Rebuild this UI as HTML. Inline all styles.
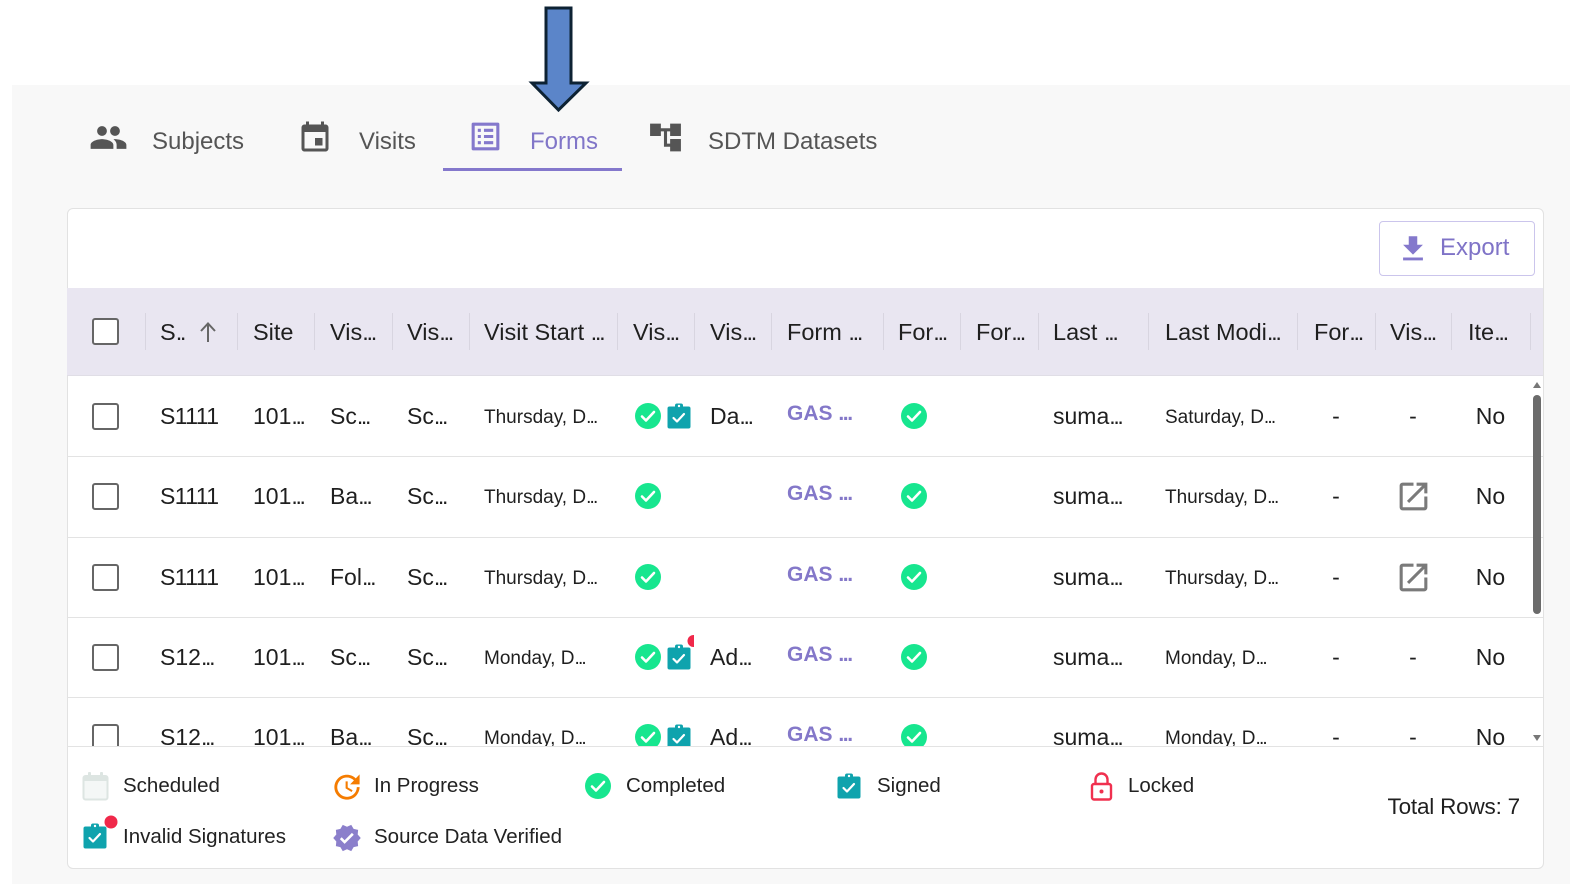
<!DOCTYPE html>
<html><head><meta charset="utf-8">
<style>
*{margin:0;padding:0;box-sizing:border-box}
body{width:1588px;height:886px;position:relative;background:#fff;font-family:"Liberation Sans",Arial,sans-serif;color:#1f1f1f;overflow:hidden}
.a{position:absolute}
.panel{left:12px;top:85px;width:1558px;height:799px;background:#f8f8f8}
.tab{position:absolute;top:118px;height:48px;line-height:48px;font-size:24px;color:#555;white-space:nowrap}
.card{left:67px;top:208px;width:1477px;height:661px;background:#fff;border:1px solid #e2e2e2;border-radius:6px}
.hdr{left:67px;top:288px;width:1476px;height:88px;background:#e9e6f1;border-bottom:1px solid #e0dee6}
.h{position:absolute;top:288px;height:88px;line-height:88px;font-size:23.5px;color:#1f1f1f;white-space:nowrap}
.e{letter-spacing:-2.3px}
.sep{position:absolute;top:313px;width:1px;height:37px;background:#d8d5e0}
.cb{position:absolute;width:27px;height:27px;border:2.5px solid #666;border-radius:3px;background:#fff}
.body{left:0;top:376px;width:1588px;height:370px;overflow:hidden}
.c{position:absolute;height:80px;line-height:80px;font-size:23px;white-space:nowrap;color:#1f1f1f}
.d{font-size:19px;line-height:83px}
.d .e{letter-spacing:-1.8px}
.g{font-weight:bold;color:#8478c9;font-size:21px;line-height:76px}
.g .e{letter-spacing:-1.4px}
.ctr{text-align:center}
.s1{letter-spacing:-0.6px}
.rl{position:absolute;left:67px;width:1476px;height:1px;background:#e3e3e3}
.lg{position:absolute;height:30px;line-height:30px;font-size:20.5px;color:#222;white-space:nowrap}
</style></head><body>

<div class="a panel"></div>

<!-- arrow -->
<svg class="a" style="left:0;top:0" width="700" height="120">
  <polygon points="546,8 571,8 571,83 586,83 558.5,110 532,83 546,83" fill="#5b85c9" stroke="#0d2233" stroke-width="3" stroke-linejoin="miter"/>
</svg>

<!-- tabs -->
<svg class="a" style="left:89px;top:118px" width="39" height="39" viewBox="0 0 24 24"><path fill="#555" d="M16 11c1.66 0 2.99-1.34 2.99-3S17.66 5 16 5c-1.66 0-3 1.34-3 3s1.34 3 3 3zm-8 0c1.66 0 2.99-1.34 2.99-3S9.66 5 8 5C6.34 5 5 6.34 5 8s1.34 3 3 3zm0 2c-2.33 0-7 1.17-7 3.5V19h14v-2.5c0-2.33-4.67-3.5-7-3.5zm8 0c-.29 0-.62.02-.97.05 1.16.84 1.97 1.97 1.97 3.45V19h6v-2.5c0-2.33-4.67-3.5-7-3.5z"/></svg>
<div class="tab" style="left:152px">Subjects</div>

<svg class="a" style="left:297px;top:120px" width="36" height="36" viewBox="0 0 24 24"><path fill="#555" d="M17 12h-5v5h5v-5zM16 1v2H8V1H6v2H5c-1.11 0-1.99.9-1.99 2L3 19c0 1.1.89 2 2 2h14c1.1 0 2-.9 2-2V5c0-1.1-.9-2-2-2h-1V1h-2zm3 18H5V8h14v11z"/></svg>
<div class="tab" style="left:359px">Visits</div>

<svg class="a" style="left:467px;top:118px" width="37" height="37" viewBox="0 0 24 24"><path fill="#8478cc" d="M19 5v14H5V5h14m1.1-2H3.9c-.5 0-.9.4-.9.9v16.2c0 .4.4.9.9.9h16.2c.4 0 .9-.5.9-.9V3.9c0-.5-.5-.9-.9-.9zM11 7h6v2h-6V7zm0 4h6v2h-6v-2zm0 4h6v2h-6zM7 7h2v2H7zm0 4h2v2H7zm0 4h2v2H7z"/></svg>
<div class="tab" style="left:530px;color:#8176c8">Forms</div>
<div class="a" style="left:443px;top:168px;width:179px;height:3px;background:#8478cc"></div>

<svg class="a" style="left:647px;top:119px" width="37" height="37" viewBox="0 0 24 24"><path fill="#555" d="M22 11V3h-7v3H9V3H2v8h7V8h2v10h4v3h7v-8h-7v3h-2V8h2v3z"/></svg>
<div class="tab" style="left:708px">SDTM Datasets</div>

<!-- card -->
<div class="a card"></div>

<!-- export -->
<div class="a" style="left:1379px;top:221px;width:156px;height:55px;border:1px solid #cbc5ec;border-radius:4px;background:#fff"></div>
<svg class="a" style="left:1396px;top:232px" width="34" height="34" viewBox="0 0 24 24"><path fill="#8478cc" d="M19 9h-4V3H9v6H5l7 7 7-7zM5 18v2h14v-2H5z"/></svg>
<div class="a" style="left:1440px;top:228px;height:40px;line-height:40px;font-size:24px;color:#7f73c7">Export</div>

<!-- header -->
<div class="a hdr"></div>
<div class="cb" style="left:92px;top:318px"></div>
<div class="sep" style="left:145px"></div>
<div class="sep" style="left:237px"></div>
<div class="sep" style="left:314px"></div>
<div class="sep" style="left:392px"></div>
<div class="sep" style="left:469px"></div>
<div class="sep" style="left:617px"></div>
<div class="sep" style="left:694px"></div>
<div class="sep" style="left:771px"></div>
<div class="sep" style="left:883px"></div>
<div class="sep" style="left:960px"></div>
<div class="sep" style="left:1038px"></div>
<div class="sep" style="left:1148px"></div>
<div class="sep" style="left:1297px"></div>
<div class="sep" style="left:1375px"></div>
<div class="sep" style="left:1451px"></div>
<div class="sep" style="left:1530px"></div>

<div class="h" style="left:160px">S<span class="e">..</span></div>
<svg class="a" style="left:199px;top:321px" width="18" height="22" viewBox="0 0 18 22"><path d="M9 3v18M2 10l7-7.5 7 7.5" fill="none" stroke="#666" stroke-width="2"/></svg>
<div class="h" style="left:253px">Site</div>
<div class="h" style="left:330px">Vis<span class="e">...</span></div>
<div class="h" style="left:407px">Vis<span class="e">...</span></div>
<div class="h" style="left:484px">Visit Start <span class="e">...</span></div>
<div class="h" style="left:633px">Vis<span class="e">...</span></div>
<div class="h" style="left:710px">Vis<span class="e">...</span></div>
<div class="h" style="left:787px">Form <span class="e">...</span></div>
<div class="h" style="left:898px">For<span class="e">...</span></div>
<div class="h" style="left:976px">For<span class="e">...</span></div>
<div class="h" style="left:1053px">Last <span class="e">...</span></div>
<div class="h" style="left:1165px">Last Modi<span class="e">...</span></div>
<div class="h" style="left:1314px">For<span class="e">...</span></div>
<div class="h" style="left:1390px">Vis<span class="e">...</span></div>
<div class="h" style="left:1468px">Ite<span class="e">...</span></div>

<!-- body -->
<div class="a body">
  <div class="rl" style="top:80px"></div>
  <div class="rl" style="top:161px"></div>
  <div class="rl" style="top:241px"></div>
  <div class="rl" style="top:321px"></div>

  <!-- row 1 -->
  <div class="cb" style="left:92px;top:27px"></div>
  <div class="c s1" style="left:160px;top:0">S1111</div>
  <div class="c" style="left:253px;top:0">101<span class="e">...</span></div>
  <div class="c" style="left:330px;top:0">Sc<span class="e">...</span></div>
  <div class="c" style="left:407px;top:0">Sc<span class="e">...</span></div>
  <div class="c d" style="left:484px;top:0">Thursday, D<span class="e">...</span></div>
  <svg class="a" style="left:635px;top:27px" width="26" height="26" viewBox="0 0 26 26"><circle cx="13" cy="13" r="13" fill="#17e68f"/><path d="M7 13.5l4 4 8-8.5" fill="none" stroke="#fff" stroke-width="2.6" stroke-linecap="round" stroke-linejoin="round"/></svg>
  <svg class="a" style="left:667px;top:27px" width="24" height="26" viewBox="0 0 24 26"><rect x="0.5" y="3.5" width="23" height="22" rx="2" fill="#0fa3ad"/><rect x="8" y="0.5" width="8" height="5" rx="2" fill="#0fa3ad"/><circle cx="12" cy="3" r="1.2" fill="#fff"/><path d="M6.5 15l3.5 3.5 7-7.5" fill="none" stroke="#fff" stroke-width="2.2" stroke-linecap="round" stroke-linejoin="round"/></svg>
  <div class="c" style="left:710px;top:0">Da<span class="e">...</span></div>
  <div class="c g" style="left:787px;top:0">GAS <span class="e">...</span></div>
  <svg class="a" style="left:901px;top:27px" width="26" height="26" viewBox="0 0 26 26"><circle cx="13" cy="13" r="13" fill="#17e68f"/><path d="M7 13.5l4 4 8-8.5" fill="none" stroke="#fff" stroke-width="2.6" stroke-linecap="round" stroke-linejoin="round"/></svg>
  <div class="c" style="left:1053px;top:0">suma<span class="e">...</span></div>
  <div class="c d" style="left:1165px;top:0">Saturday, D<span class="e">...</span></div>
  <div class="c ctr" style="left:1297px;width:78px;top:0">-</div>
  <div class="c ctr" style="left:1375px;width:76px;top:0">-</div>
  <div class="c ctr" style="left:1451px;width:79px;top:0">No</div>

  <!-- row 2 -->
  <div class="cb" style="left:92px;top:107px"></div>
  <div class="c s1" style="left:160px;top:80px">S1111</div>
  <div class="c" style="left:253px;top:80px">101<span class="e">...</span></div>
  <div class="c" style="left:330px;top:80px">Ba<span class="e">...</span></div>
  <div class="c" style="left:407px;top:80px">Sc<span class="e">...</span></div>
  <div class="c d" style="left:484px;top:80px">Thursday, D<span class="e">...</span></div>
  <svg class="a" style="left:635px;top:107px" width="26" height="26" viewBox="0 0 26 26"><circle cx="13" cy="13" r="13" fill="#17e68f"/><path d="M7 13.5l4 4 8-8.5" fill="none" stroke="#fff" stroke-width="2.6" stroke-linecap="round" stroke-linejoin="round"/></svg>
  <div class="c g" style="left:787px;top:80px">GAS <span class="e">...</span></div>
  <svg class="a" style="left:901px;top:107px" width="26" height="26" viewBox="0 0 26 26"><circle cx="13" cy="13" r="13" fill="#17e68f"/><path d="M7 13.5l4 4 8-8.5" fill="none" stroke="#fff" stroke-width="2.6" stroke-linecap="round" stroke-linejoin="round"/></svg>
  <div class="c" style="left:1053px;top:80px">suma<span class="e">...</span></div>
  <div class="c d" style="left:1165px;top:80px">Thursday, D<span class="e">...</span></div>
  <div class="c ctr" style="left:1297px;width:78px;top:80px">-</div>
  <svg class="a" style="left:1395px;top:102px" width="37" height="37" viewBox="0 0 24 24"><path fill="#7a7a7a" d="M19 19H5V5h7V3H5c-1.11 0-2 .9-2 2v14c0 1.1.89 2 2 2h14c1.1 0 2-.9 2-2v-7h-2v7zM14 3v2h3.59l-9.83 9.83 1.41 1.41L19 6.41V10h2V3h-7z"/></svg>
  <div class="c ctr" style="left:1451px;width:79px;top:80px">No</div>

  <!-- row 3 -->
  <div class="cb" style="left:92px;top:188px"></div>
  <div class="c s1" style="left:160px;top:161px">S1111</div>
  <div class="c" style="left:253px;top:161px">101<span class="e">...</span></div>
  <div class="c" style="left:330px;top:161px">Fol<span class="e">...</span></div>
  <div class="c" style="left:407px;top:161px">Sc<span class="e">...</span></div>
  <div class="c d" style="left:484px;top:161px">Thursday, D<span class="e">...</span></div>
  <svg class="a" style="left:635px;top:188px" width="26" height="26" viewBox="0 0 26 26"><circle cx="13" cy="13" r="13" fill="#17e68f"/><path d="M7 13.5l4 4 8-8.5" fill="none" stroke="#fff" stroke-width="2.6" stroke-linecap="round" stroke-linejoin="round"/></svg>
  <div class="c g" style="left:787px;top:161px">GAS <span class="e">...</span></div>
  <svg class="a" style="left:901px;top:188px" width="26" height="26" viewBox="0 0 26 26"><circle cx="13" cy="13" r="13" fill="#17e68f"/><path d="M7 13.5l4 4 8-8.5" fill="none" stroke="#fff" stroke-width="2.6" stroke-linecap="round" stroke-linejoin="round"/></svg>
  <div class="c" style="left:1053px;top:161px">suma<span class="e">...</span></div>
  <div class="c d" style="left:1165px;top:161px">Thursday, D<span class="e">...</span></div>
  <div class="c ctr" style="left:1297px;width:78px;top:161px">-</div>
  <svg class="a" style="left:1395px;top:183px" width="37" height="37" viewBox="0 0 24 24"><path fill="#7a7a7a" d="M19 19H5V5h7V3H5c-1.11 0-2 .9-2 2v14c0 1.1.89 2 2 2h14c1.1 0 2-.9 2-2v-7h-2v7zM14 3v2h3.59l-9.83 9.83 1.41 1.41L19 6.41V10h2V3h-7z"/></svg>
  <div class="c ctr" style="left:1451px;width:79px;top:161px">No</div>

  <!-- row 4 -->
  <div class="cb" style="left:92px;top:268px"></div>
  <div class="c" style="left:160px;top:241px">S12<span class="e">...</span></div>
  <div class="c" style="left:253px;top:241px">101<span class="e">...</span></div>
  <div class="c" style="left:330px;top:241px">Sc<span class="e">...</span></div>
  <div class="c" style="left:407px;top:241px">Sc<span class="e">...</span></div>
  <div class="c d" style="left:484px;top:241px">Monday, D<span class="e">...</span></div>
  <svg class="a" style="left:635px;top:268px" width="26" height="26" viewBox="0 0 26 26"><circle cx="13" cy="13" r="13" fill="#17e68f"/><path d="M7 13.5l4 4 8-8.5" fill="none" stroke="#fff" stroke-width="2.6" stroke-linecap="round" stroke-linejoin="round"/></svg>
  <svg class="a" style="left:667px;top:268px" width="24" height="26" viewBox="0 0 24 26"><rect x="0.5" y="3.5" width="23" height="22" rx="2" fill="#0fa3ad"/><rect x="8" y="0.5" width="8" height="5" rx="2" fill="#0fa3ad"/><circle cx="12" cy="3" r="1.2" fill="#fff"/><path d="M6.5 15l3.5 3.5 7-7.5" fill="none" stroke="#fff" stroke-width="2.2" stroke-linecap="round" stroke-linejoin="round"/></svg>
  <svg class="a" style="left:687px;top:259px" width="7" height="12" viewBox="0 0 7 12"><circle cx="6.5" cy="6" r="6" fill="#f0284a"/></svg>
  <div class="c" style="left:710px;top:241px">Ad<span class="e">...</span></div>
  <div class="c g" style="left:787px;top:241px">GAS <span class="e">...</span></div>
  <svg class="a" style="left:901px;top:268px" width="26" height="26" viewBox="0 0 26 26"><circle cx="13" cy="13" r="13" fill="#17e68f"/><path d="M7 13.5l4 4 8-8.5" fill="none" stroke="#fff" stroke-width="2.6" stroke-linecap="round" stroke-linejoin="round"/></svg>
  <div class="c" style="left:1053px;top:241px">suma<span class="e">...</span></div>
  <div class="c d" style="left:1165px;top:241px">Monday, D<span class="e">...</span></div>
  <div class="c ctr" style="left:1297px;width:78px;top:241px">-</div>
  <div class="c ctr" style="left:1375px;width:76px;top:241px">-</div>
  <div class="c ctr" style="left:1451px;width:79px;top:241px">No</div>

  <!-- row 5 -->
  <div class="cb" style="left:92px;top:348px"></div>
  <div class="c" style="left:160px;top:321px">S12<span class="e">...</span></div>
  <div class="c" style="left:253px;top:321px">101<span class="e">...</span></div>
  <div class="c" style="left:330px;top:321px">Ba<span class="e">...</span></div>
  <div class="c" style="left:407px;top:321px">Sc<span class="e">...</span></div>
  <div class="c d" style="left:484px;top:321px">Monday, D<span class="e">...</span></div>
  <svg class="a" style="left:635px;top:348px" width="26" height="26" viewBox="0 0 26 26"><circle cx="13" cy="13" r="13" fill="#17e68f"/><path d="M7 13.5l4 4 8-8.5" fill="none" stroke="#fff" stroke-width="2.6" stroke-linecap="round" stroke-linejoin="round"/></svg>
  <svg class="a" style="left:667px;top:348px" width="24" height="26" viewBox="0 0 24 26"><rect x="0.5" y="3.5" width="23" height="22" rx="2" fill="#0fa3ad"/><rect x="8" y="0.5" width="8" height="5" rx="2" fill="#0fa3ad"/><circle cx="12" cy="3" r="1.2" fill="#fff"/><path d="M6.5 15l3.5 3.5 7-7.5" fill="none" stroke="#fff" stroke-width="2.2" stroke-linecap="round" stroke-linejoin="round"/></svg>
  <div class="c" style="left:710px;top:321px">Ad<span class="e">...</span></div>
  <div class="c g" style="left:787px;top:321px">GAS <span class="e">...</span></div>
  <svg class="a" style="left:901px;top:348px" width="26" height="26" viewBox="0 0 26 26"><circle cx="13" cy="13" r="13" fill="#17e68f"/><path d="M7 13.5l4 4 8-8.5" fill="none" stroke="#fff" stroke-width="2.6" stroke-linecap="round" stroke-linejoin="round"/></svg>
  <div class="c" style="left:1053px;top:321px">suma<span class="e">...</span></div>
  <div class="c d" style="left:1165px;top:321px">Monday, D<span class="e">...</span></div>
  <div class="c ctr" style="left:1297px;width:78px;top:321px">-</div>
  <div class="c ctr" style="left:1375px;width:76px;top:321px">-</div>
  <div class="c ctr" style="left:1451px;width:79px;top:321px">No</div>
</div>

<!-- scrollbar -->
<svg class="a" style="left:1532px;top:381px" width="10" height="8" viewBox="0 0 10 8"><path d="M5 1L9 7H1z" fill="#777"/></svg>
<div class="a" style="left:1533px;top:395px;width:8px;height:219px;background:#6b6b6b;border-radius:4px"></div>
<svg class="a" style="left:1532px;top:734px" width="10" height="8" viewBox="0 0 10 8"><path d="M1 1H9L5 7z" fill="#777"/></svg>

<!-- footer -->
<div class="a" style="left:67px;top:746px;width:1476px;height:1px;background:#e3e3e3"></div>

<!-- legend row 1 -->
<svg class="a" style="left:82px;top:771px" width="27" height="30" viewBox="0 0 27 30"><rect x="1.5" y="5" width="24" height="23.5" rx="2" fill="#f4f7f6" stroke="#dde5e2" stroke-width="2"/><rect x="1.5" y="5" width="24" height="5" fill="#dde5e2"/><rect x="6" y="1" width="3" height="7" rx="1" fill="#dde5e2"/><rect x="18" y="1" width="3" height="7" rx="1" fill="#dde5e2"/></svg>
<div class="lg" style="left:123px;top:771px">Scheduled</div>

<svg class="a" style="left:333px;top:773px" width="28" height="28" viewBox="2 2 20 20"><path fill="#f57c00" d="M21 10.12h-6.78l2.74-2.82c-2.73-2.7-7.15-2.8-9.88-.1-2.73 2.71-2.73 7.08 0 9.79s7.150 2.71 9.88 0C18.32 15.65 19 14.08 19 12.1h2c0 1.98-.88 4.55-2.64 6.29-3.51 3.48-9.21 3.48-12.72 0-3.5-3.47-3.53-9.11-.02-12.58s9.14-3.47 12.65 0L21 3v7.12zM12.5 8v4.25l3.5 2.08-.72 1.21L11 13V8h1.5z"/></svg>
<div class="lg" style="left:374px;top:771px">In Progress</div>

<svg class="a" style="left:585px;top:773px" width="26" height="26" viewBox="0 0 26 26"><circle cx="13" cy="13" r="13" fill="#17e68f"/><path d="M7 13.5l4 4 8-8.5" fill="none" stroke="#fff" stroke-width="2.6" stroke-linecap="round" stroke-linejoin="round"/></svg>
<div class="lg" style="left:626px;top:771px">Completed</div>

<svg class="a" style="left:837px;top:773px" width="24" height="26" viewBox="0 0 24 26"><rect x="0.5" y="3.5" width="23" height="22" rx="2" fill="#0fa3ad"/><rect x="8" y="0.5" width="8" height="5" rx="2" fill="#0fa3ad"/><circle cx="12" cy="3" r="1.2" fill="#fff"/><path d="M6.5 15l3.5 3.5 7-7.5" fill="none" stroke="#fff" stroke-width="2.2" stroke-linecap="round" stroke-linejoin="round"/></svg>
<div class="lg" style="left:877px;top:771px">Signed</div>

<svg class="a" style="left:1090px;top:771px" width="23" height="30" viewBox="0 0 23 30"><path d="M5.5 13V8.5a6 6 0 0 1 12 0V13" fill="none" stroke="#f0304f" stroke-width="2.4"/><rect x="2" y="13" width="19" height="15.5" rx="2" fill="none" stroke="#f0304f" stroke-width="2.4"/><circle cx="11.5" cy="20.5" r="2" fill="#f0304f"/></svg>
<div class="lg" style="left:1128px;top:771px">Locked</div>

<!-- legend row 2 -->
<svg class="a" style="left:83px;top:823px" width="24" height="26" viewBox="0 0 24 26"><rect x="0.5" y="3.5" width="23" height="22" rx="2" fill="#0fa3ad"/><rect x="8" y="0.5" width="8" height="5" rx="2" fill="#0fa3ad"/><circle cx="12" cy="3" r="1.2" fill="#fff"/><path d="M6.5 15l3.5 3.5 7-7.5" fill="none" stroke="#fff" stroke-width="2.2" stroke-linecap="round" stroke-linejoin="round"/></svg>
<svg class="a" style="left:104px;top:815px" width="14" height="14" viewBox="0 0 14 14"><circle cx="7" cy="7" r="6.5" fill="#f0284a"/></svg>
<div class="lg" style="left:123px;top:822px">Invalid Signatures</div>

<svg class="a" style="left:332px;top:823px" width="30" height="30" viewBox="0 0 24 24"><path fill="#8b7fcb" d="M23 12l-2.44-2.79.34-3.69-3.61-.82-1.89-3.2L12 2.96 8.6 1.5 6.71 4.69 3.1 5.5l.34 3.7L1 12l2.44 2.79-.34 3.7 3.61.82L8.6 22.5l3.4-1.47 3.4 1.46 1.89-3.19 3.61-.82-.34-3.69L23 12zm-12.91 4.72l-3.8-3.81 1.48-1.48 2.32 2.33 5.85-5.87 1.48 1.48-7.33 7.35z"/></svg>
<div class="lg" style="left:374px;top:822px">Source Data Verified</div>

<div class="a" style="left:1280px;top:792px;width:240px;height:30px;line-height:30px;text-align:right;font-size:22.5px;color:#1f1f1f;letter-spacing:-0.2px">Total Rows: 7</div>

</body></html>
